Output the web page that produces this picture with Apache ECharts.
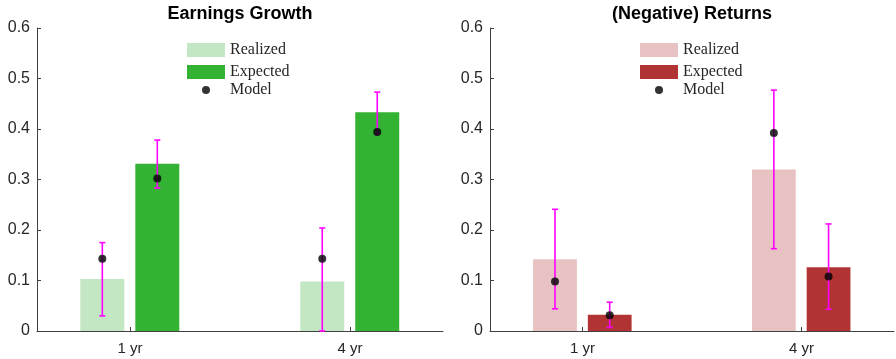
<!DOCTYPE html>
<html><head><meta charset="utf-8">
<script src="https://cdn.jsdelivr.net/npm/echarts@6/dist/echarts.min.js"></script>
<style>
html,body{margin:0;padding:0;background:#fff}
#wrap{width:896px;height:359px;position:relative}
#c1{position:absolute;left:0;top:0;width:448px;height:359px}
#c2{position:absolute;left:448px;top:0;width:448px;height:359px}
</style>
</head><body>
<div id="wrap"><div id="c1"></div><div id="c2"></div></div>
<script>
// ---- data ----
const categories = ['1 yr', '4 yr'];
const yTickLabels = ['0', '0.1', '0.2', '0.3', '0.4', '0.5', '0.6'];

const egRealized      = [0.103, 0.098];
const egExpected      = [0.331, 0.433];
const egModelRealized = [0.143, 0.143];
const egModelExpected = [0.302, 0.394];
const egRealizedLow   = [0.030, 0.000];
const egRealizedHigh  = [0.175, 0.204];
const egExpectedLow   = [0.283, 0.390];
const egExpectedHigh  = [0.378, 0.473];

const retRealized      = [0.142, 0.320];
const retExpected      = [0.032, 0.126];
const retModelRealized = [0.098, 0.392];
const retModelExpected = [0.031, 0.108];
const retRealizedLow   = [0.044, 0.163];
const retRealizedHigh  = [0.241, 0.477];
const retExpectedLow   = [0.007, 0.043];
const retExpectedHigh  = [0.057, 0.212];

// ---- layout / style ----
const OFF_R = -0.126, OFF_E = 0.124, BAR_W = 0.2;
const AXIS_COLOR = '#404040';
const TEXT_COLOR = '#262626';

function barSeries(name, vals, off, color) {
  return {
    name: name, type: 'custom', z: 2,
    itemStyle: { color: color },
    encode: { x: 0, y: 1 },
    data: vals.map((v, i) => [i + 1 + off, v]),
    renderItem: function (params, api) {
      const x = api.value(0), y = api.value(1);
      const p0 = api.coord([x - BAR_W / 2, 0]);
      const p1 = api.coord([x + BAR_W / 2, y]);
      return { type: 'rect',
        shape: { x: p0[0], y: p1[1], width: p1[0] - p0[0], height: p0[1] - p1[1] },
        style: { fill: color } };
    }
  };
}
function errSeries(lows, highs, off) {
  return {
    type: 'custom', z: 3, silent: true,
    encode: { x: 0, y: [1, 2] },
    data: lows.map((l, i) => [i + 1 + off, l, highs[i]]),
    renderItem: function (params, api) {
      const x = api.value(0);
      const lo = api.coord([x, api.value(1)]);
      const hi = api.coord([x, api.value(2)]);
      const cw = 3;
      const st = { stroke: '#ff00ff', lineWidth: 1.6 };
      return { type: 'group', children: [
        { type: 'line', shape: { x1: lo[0], y1: lo[1], x2: hi[0], y2: hi[1] }, style: st },
        { type: 'line', shape: { x1: lo[0] - cw, y1: lo[1], x2: lo[0] + cw, y2: lo[1] }, style: st },
        { type: 'line', shape: { x1: hi[0] - cw, y1: hi[1], x2: hi[0] + cw, y2: hi[1] }, style: st }
      ]};
    }
  };
}

function makeOption(cfg) {
  const modelData = cfg.modelR.map((v, i) => [i + 1 + OFF_R, v])
    .concat(cfg.modelE.map((v, i) => [i + 1 + OFF_E, v]));
  return {
    animation: false,
    title: { text: cfg.title, left: cfg.titleX, top: 5, padding: 0, textAlign: 'center',
      textStyle: { fontFamily: 'Liberation Sans', fontWeight: 'bold', fontSize: 18, color: '#000' } },
    grid: { left: cfg.gridLeft, right: cfg.gridRight, top: 28, bottom: 28 },
    legend: [
      { orient: 'vertical', left: cfg.legendLeft, top: 42, padding: 0, itemGap: 6,
        itemWidth: 38, itemHeight: 14, selectedMode: false,
        data: [{ name: 'Realized', icon: 'rect' }, { name: 'Expected', icon: 'rect' }],
        textStyle: { fontFamily: 'Liberation Serif', fontSize: 16, color: TEXT_COLOR, lineHeight: 14 } },
      { orient: 'vertical', left: cfg.legendLeft + 15, top: 82, padding: 0,
        itemWidth: 38, itemHeight: 8, selectedMode: false,
        data: [{ name: 'Model', icon: 'circle' }],
        textStyle: { fontFamily: 'Liberation Serif', fontSize: 16, color: TEXT_COLOR, lineHeight: 14 } }
    ],
    xAxis: {
      type: 'value', min: 0.577, max: 2.423,
      axisLine: { show: true, lineStyle: { color: AXIS_COLOR, width: 1 } },
      axisTick: { show: true, inside: true, length: 4, customValues: [1, 2], lineStyle: { color: AXIS_COLOR } },
      axisLabel: { customValues: [1, 2], margin: 10, formatter: v => categories[Math.round(v) - 1],
        fontFamily: 'Liberation Sans', fontSize: 15, color: TEXT_COLOR },
      splitLine: { show: false }
    },
    yAxis: {
      type: 'value', min: 0, max: 0.6, interval: 0.1,
      axisLine: { show: true, lineStyle: { color: AXIS_COLOR, width: 1 } },
      axisTick: { show: true, inside: true, length: 4, lineStyle: { color: AXIS_COLOR } },
      axisLabel: { margin: 7, formatter: (v) => yTickLabels[Math.round(v * 10)],
        fontFamily: 'Liberation Sans', fontSize: 16, color: TEXT_COLOR },
      splitLine: { show: false }
    },
    series: [
      barSeries('Realized', cfg.realized, OFF_R, cfg.colR),
      barSeries('Expected', cfg.expected, OFF_E, cfg.colE),
      errSeries(cfg.lowR, cfg.highR, OFF_R),
      errSeries(cfg.lowE, cfg.highE, OFF_E),
      { name: 'Model', type: 'scatter', z: 4, symbol: 'circle', symbolSize: 8,
        itemStyle: { color: '#000' }, data: modelData }
    ]
  };
}

const c1 = echarts.init(document.getElementById('c1'), null, { renderer: 'canvas' });
c1.setOption(makeOption({
  title: 'Earnings Growth', titleX: 240, gridLeft: 37, gridRight: 5, legendLeft: 187,
  realized: egRealized, expected: egExpected, modelR: egModelRealized, modelE: egModelExpected,
  lowR: egRealizedLow, highR: egRealizedHigh, lowE: egExpectedLow, highE: egExpectedHigh,
  colR: '#c3e6c3', colE: '#34b234'
}));
const c2 = echarts.init(document.getElementById('c2'), null, { renderer: 'canvas' });
c2.setOption(makeOption({
  title: '(Negative) Returns', titleX: 244, gridLeft: 42, gridRight: 2, legendLeft: 192,
  realized: retRealized, expected: retExpected, modelR: retModelRealized, modelE: retModelExpected,
  lowR: retRealizedLow, highR: retRealizedHigh, lowE: retExpectedLow, highE: retExpectedHigh,
  colR: '#e8c2c2', colE: '#b23333'
}));
</script>
</body></html>
